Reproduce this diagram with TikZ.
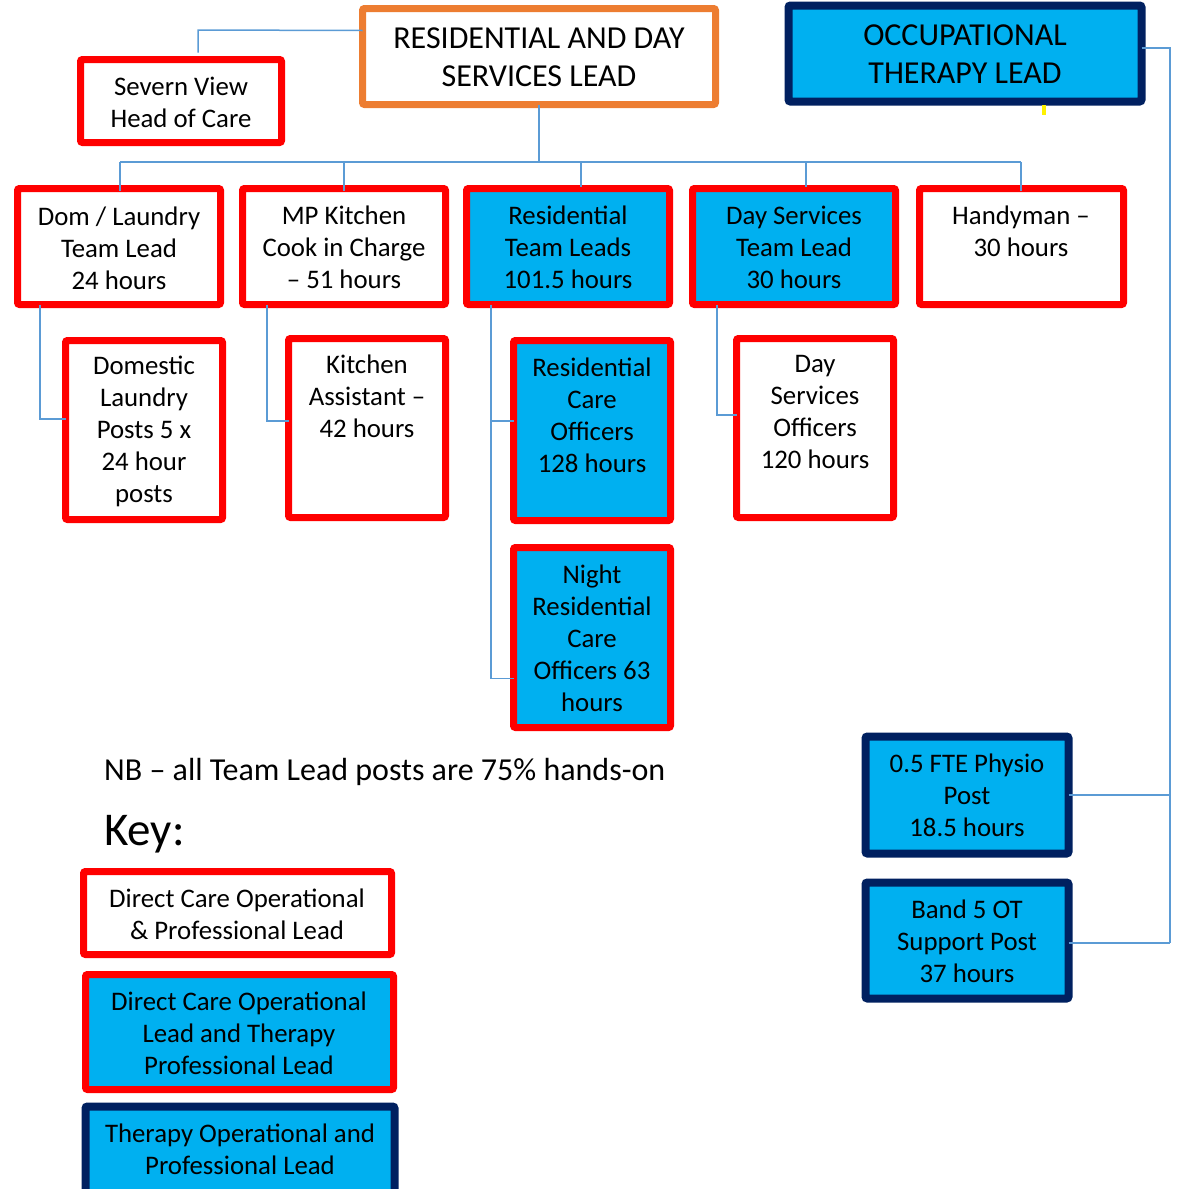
\documentclass[tikz,border=0pt]{standalone}
\usepackage{fontspec}
\setmainfont{Carlito}
\definecolor{boxred}{HTML}{FF0000}
\definecolor{boxblue}{HTML}{00B0F0}
\definecolor{boxnavy}{HTML}{002060}
\definecolor{boxorange}{HTML}{ED7D31}
\definecolor{connblue}{HTML}{5B9BD5}
\newcommand\orgbox[6]{\node[#2, minimum width={#5-#3-7}, minimum height={#6-#4-7}] (#1) at ({(#3+#5)/2},{(#4+#6)/2}) {};}
\begin{document}
\begin{tikzpicture}[x=1pt,y=-1pt,
  base/.style={rectangle, inner sep=0pt, outer sep=0pt, rounded corners=2pt},
  redwhite/.style={base, draw=boxred, line width=7pt, fill=white},
  redblue/.style={base, draw=boxred, line width=7pt, fill=boxblue},
  navyblue/.style={base, draw=boxnavy, line width=8pt, fill=boxblue},
  orangewhite/.style={base, draw=boxorange, line width=7pt, fill=white},
  txt/.style={align=center, inner sep=0pt, yshift=-6pt, font=\fontsize{26.8}{32}\selectfont},
  bigtxt/.style={align=center, inner sep=0pt, yshift=-7.5pt, font=\fontsize{32}{38}\selectfont},
  conn/.style={draw=connblue, line width=1.5pt}]
\useasboundingbox (0,0) rectangle (1185,1189);

% boxes (outer edges)
\orgbox{sv}{redwhite}{77}{56}{285}{146}
\orgbox{title}{orangewhite}{359}{5}{719}{108}
\orgbox{ot}{navyblue}{785}{2}{1145}{105}
\orgbox{dom}{redwhite}{14}{185}{224}{308}
\orgbox{mp}{redwhite}{239}{185}{449}{308}
\orgbox{rtl}{redblue}{463}{185}{673}{308}
\orgbox{dtl}{redblue}{689}{185}{899}{308}
\orgbox{hm}{redwhite}{916}{185}{1127}{308}
\orgbox{dl}{redwhite}{62}{337}{226}{523}
\orgbox{ka}{redwhite}{285}{335}{449}{521}
\orgbox{rco}{redblue}{510}{337}{674}{524}
\orgbox{dso}{redwhite}{733}{335}{897}{521}
\orgbox{nrc}{redblue}{510}{544}{674}{731}
\orgbox{phys}{navyblue}{862}{733}{1072}{857}
\orgbox{band}{navyblue}{862}{879}{1072}{1002}
\orgbox{keya}{redwhite}{80}{868}{395}{958}
\orgbox{keyb}{redblue}{82}{971}{397}{1093}
\orgbox{keyc}{navyblue}{82}{1103}{398}{1200}

% texts
\node[txt] (sv-t) at (181,96) {Severn View\\Head of Care};
\node[bigtxt] (title-t) at (539,50) {RESIDENTIAL AND DAY\\SERVICES LEAD};
\node[bigtxt] (ot-t) at (965,47) {OCCUPATIONAL\\THERAPY LEAD};
\node[txt] (dom-t) at (119,242) {Dom / Laundry\\Team Lead\\24 hours};
\node[txt] (mp-t) at (344,241) {MP Kitchen\\Cook in Charge\\– 51 hours};
\node[txt] (rtl-t) at (568,241) {Residential\\Team Leads\\101.5 hours};
\node[txt] (dtl-t) at (794,241) {Day Services\\Team Lead\\30 hours};
\node[txt] (hm-t) at (1021,225) {Handyman –\\30 hours};
\node[txt] (dl-t) at (144,425) {Domestic\\Laundry\\Posts 5 x\\24 hour\\posts};
\node[txt] (ka-t) at (367,390) {Kitchen\\Assistant –\\42 hours};
\node[txt] (rco-t) at (592,409) {Residential\\Care\\Officers\\128 hours};
\node[txt] (dso-t) at (815,406) {Day\\Services\\Officers\\120 hours};
\node[txt] (nrc-t) at (592,632) {Night\\Residential\\Care\\Officers 63\\hours};
\node[txt] (phys-t) at (967,789) {0.5 FTE Physio\\Post\\18.5 hours};
\node[txt] (band-t) at (967,935) {Band 5 OT\\Support Post\\37 hours};
\node[txt] (keya-t) at (237,908) {Direct Care Operational\\\& Professional Lead};
\node[txt] (keyb-t) at (239,1027) {Direct Care Operational\\Lead and Therapy\\Professional Lead};
\node[txt] (keyc-t) at (240,1143) {Therapy Operational and\\Professional Lead};
\node[anchor=base west, inner sep=0pt, font=\fontsize{32}{38}\selectfont] (nb) at (104,780) {NB – all Team Lead posts are 75\% hands-on};
\node[anchor=base west, inner sep=0pt, font=\fontsize{47}{56}\selectfont] (key) at (104,845) {Key:};

% connectors
\coordinate (svc) at (198,30);
\draw[conn] ([yshift=26pt]title.west) -- (svc) -- ([yshift=7pt]svc |- sv.north);
\coordinate (busL) at (120,162);
\coordinate (busR) at (1021,162);
\draw[conn] (busL) -- (busR);
\draw[conn] (title.south) -- (title.south |- busL);
\draw[conn] (busL) -- ([yshift=-2pt]busL |- dom.north);
\draw[conn] (mp.north |- busL) -- ([yshift=-2pt]mp.north);
\draw[conn] ([xshift=13pt]rtl.north |- busL) -- ([xshift=13pt,yshift=2pt]rtl.north);
\draw[conn] ([xshift=12pt]dtl.north |- busL) -- ([xshift=12pt,yshift=2pt]dtl.north);
\draw[conn] (busR) -- ([yshift=-2pt]busR |- hm.north);

\draw[conn] ([xshift=22.5pt]dom.south west) |- ([yshift=11pt]dl.west);
\draw[conn] ([xshift=24.5pt]mp.south west) |- ([yshift=7pt]ka.west);
\coordinate (rtlv) at ([xshift=24.5pt]rtl.south west);
\coordinate (rcoj) at ([yshift=9.5pt]rco.west);
\coordinate (nrcj) at ([yshift=-41pt]nrc.west);
\draw[conn] (rtlv) |- (nrcj);
\draw[conn] (rcoj -| rtlv) -- (rcoj);
\draw[conn] ([xshift=24.5pt]dtl.south west) |- ([yshift=13pt]dso.west);

\coordinate (otr) at (1170,48);
\draw[conn] ([yshift=5.5pt]ot.east) -- (otr) -- ([yshift=-2pt]otr |- band.east);
\draw[conn] (phys.east) -- (phys.east -| otr);
\draw[conn] ([yshift=-2.5pt]band.east) -- ([yshift=-2.5pt]band.east -| otr);

\draw[yellow, line width=4pt] ([xshift=79pt,yshift=-3.5pt]ot.south) -- ++(0,10);
\end{tikzpicture}
\end{document}
